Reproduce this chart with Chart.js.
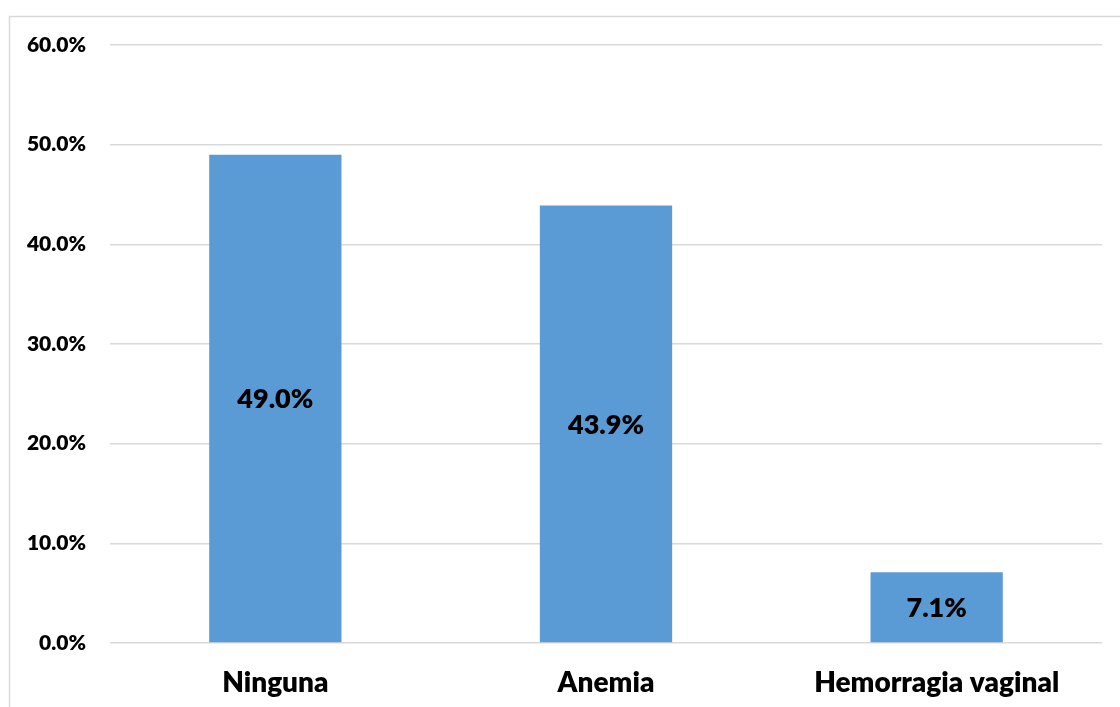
<!DOCTYPE html>
<html>
<head>
<meta charset="utf-8">
<script src="https://cdn.jsdelivr.net/npm/chart.js@4/dist/chart.umd.min.js"></script>
<style>
  html, body { margin: 0; padding: 0; background: #fff; }
  #wrap { position: relative; width: 1120px; height: 707px; }
</style>
</head>
<body>
<div id="wrap"><canvas id="c" width="1120" height="707"></canvas></div>
<script>
const categories = ["Ninguna", "Anemia", "Hemorragia vaginal"];
const values = [49.0, 43.9, 7.1];
const yMax = 60;
const yStep = 10;

const FONT = "Lato, 'Open Sans', sans-serif";
const WEIGHT = 800;

const borderPlugin = {
  id: 'outerBorder',
  beforeDraw(chart) {
    const ctx = chart.ctx;
    ctx.save();
    ctx.strokeStyle = '#d9d9d9';
    ctx.lineWidth = 1.5;
    ctx.beginPath();
    ctx.moveTo(9.5, 707);
    ctx.lineTo(9.5, 16.5);
    ctx.lineTo(1120, 16.5);
    ctx.stroke();
    ctx.restore();
  }
};

const labelPlugin = {
  id: 'barLabels',
  afterDatasetsDraw(chart) {
    const ctx = chart.ctx;
    const meta = chart.getDatasetMeta(0);
    ctx.save();
    ctx.font = WEIGHT + " 27px " + FONT;
    ctx.fillStyle = '#000';
    ctx.textAlign = 'center';
    ctx.textBaseline = 'middle';
    meta.data.forEach((el, i) => {
      const p = el.getProps(['x', 'y', 'base'], true);
      ctx.fillText(values[i].toFixed(1) + '%', p.x, (p.y + p.base) / 2 + 1);
    });
    ctx.restore();
  }
};

new Chart(document.getElementById('c'), {
  type: 'bar',
  data: {
    labels: categories,
    datasets: [{
      data: values,
      backgroundColor: '#5b9bd5',
      borderWidth: 0,
      barPercentage: 0.4,
      categoryPercentage: 1.0
    }]
  },
  options: {
    responsive: false,
    animation: false,
    layout: { padding: { top: 45, right: 18, bottom: 0, left: 0 } },
    plugins: { legend: { display: false }, tooltip: { enabled: false } },
    scales: {
      x: {
        grid: { display: false },
        border: { display: false },
        ticks: { color: '#000', font: { family: FONT, size: 28, weight: WEIGHT }, padding: 15, maxRotation: 0 },
        afterFit(scale) { scale.height = 64; }
      },
      y: {
        min: 0,
        max: yMax,
        ticks: {
          stepSize: yStep,
          color: '#000',
          font: { family: FONT, size: 21, weight: WEIGHT },
          padding: 24,
          callback: v => v.toFixed(1) + '%'
        },
        grid: { color: '#d9d9d9', lineWidth: 1.5, drawTicks: false },
        border: { display: false },
        afterFit(scale) { scale.width = 110; }
      }
    }
  },
  plugins: [borderPlugin, labelPlugin]
});
</script>
</body>
</html>
